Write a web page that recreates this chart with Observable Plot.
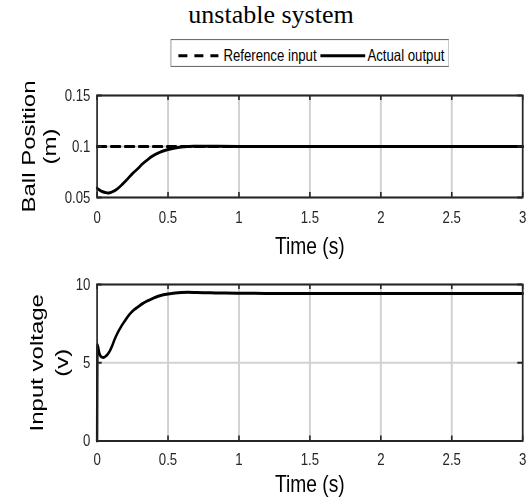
<!DOCTYPE html>
<html><head><meta charset="utf-8">
<script src="https://cdn.jsdelivr.net/npm/d3@7"></script>
<script src="https://cdn.jsdelivr.net/npm/@observablehq/plot@0.6"></script>
<style>
html,body{margin:0;padding:0;background:#fff;}
#fig{position:relative;width:528px;height:504px;overflow:hidden;background:#fff;}
#title{position:absolute;left:0;top:0;width:542px;text-align:center;font-family:"Liberation Serif","Times New Roman",serif;font-size:26px;line-height:30px;color:#000;}
#wrap{position:absolute;left:0;top:0;width:660px;height:504px;transform:scaleX(0.8);transform-origin:0 0;}
.panel{position:absolute;left:0;}
#legend{position:absolute;left:212.5px;top:39px;}
</style></head><body>
<div id="fig">
  <div id="title">unstable system</div>
  <div id="wrap">
    <div id="legend"></div>
    <div id="p1" class="panel" style="top:72px"></div>
    <div id="p2" class="panel" style="top:262px"></div>
  </div>
</div>
<script>
// ---- data ----
const xTicks = [0, 0.5, 1, 1.5, 2, 2.5, 3];
const posTicks = [0.05, 0.1, 0.15];
const voltTicks = [0, 5, 10];
const seriesNames = ["Reference input", "Actual output"];

const refTime = [0, 3];
const refPosition = [0.1, 0.1];

const time1 = [0, 0.02, 0.04, 0.06, 0.075, 0.09, 0.11, 0.146, 0.18, 0.217, 0.25, 0.287, 0.32, 0.358, 0.39, 0.429, 0.46, 0.5, 0.55, 0.594, 0.64, 0.68, 0.75, 0.85, 1.0, 1.2, 1.5, 2, 2.5, 3];
const position = [0.0592, 0.0570, 0.0556, 0.0548, 0.0545, 0.0547, 0.0557, 0.0588, 0.0632, 0.0685, 0.0735, 0.0783, 0.0830, 0.0873, 0.0905, 0.0935, 0.0954, 0.0971, 0.0986, 0.0994, 0.0999, 0.1002, 0.1003, 0.1002, 0.1001, 0.1, 0.1, 0.1, 0.1, 0.1];

const time2 = [0, 0.003, 0.016, 0.03, 0.047, 0.065, 0.087, 0.105, 0.122, 0.145, 0.17, 0.195, 0.217, 0.25, 0.287, 0.32, 0.358, 0.39, 0.429, 0.46, 0.5, 0.55, 0.594, 0.64, 0.7, 0.8, 0.9, 1.0, 1.2, 1.5, 2, 2.5, 3];
const voltage = [0, 6.15, 5.6, 5.38, 5.34, 5.45, 5.71, 6.05, 6.46, 6.92, 7.32, 7.67, 7.96, 8.3, 8.56, 8.78, 8.97, 9.1, 9.25, 9.33, 9.40, 9.46, 9.49, 9.50, 9.49, 9.47, 9.45, 9.44, 9.43, 9.42, 9.42, 9.42, 9.42];

// ---- layout ----
const S = 0.8, W = 528 / S;
const ML = 96.7 / S, MR = (528 - 522.3) / S;
const font = '"Liberation Sans", Arial, Helvetica, sans-serif';
const ink = "#262626";
const gridColor = "#d2d2d2";

const toRows = (ts, vs) => ts.map((t, i) => ({t, v: vs[i]}));

function panel(o) {
  const innerH = o.height - o.mt - o.mb;
  const innerW = W - ML - MR;
  const tx = 5, ty = 5 / S;
  const marks = [
    Plot.gridX({ticks: xTicks, stroke: gridColor, strokeOpacity: 1, strokeWidth: 2.5}),
    Plot.gridY({ticks: o.yTicks, stroke: gridColor, strokeOpacity: 1, strokeWidth: 2})
  ];
  if (o.ref) marks.push(Plot.line(o.ref, {x: "t", y: "v", stroke: "#000", strokeWidth: 3, strokeDasharray: "11.25,6.25"}));
  marks.push(Plot.line(o.data, {x: "t", y: "v", stroke: "#000", strokeWidth: 3, curve: "monotone-x"}));
  marks.push(
    Plot.ruleX(xTicks, {x: d => d, stroke: ink, strokeWidth: 2, insetTop: innerH - tx}),
    Plot.ruleX(xTicks, {x: d => d, stroke: ink, strokeWidth: 2, insetBottom: innerH - tx}),
    Plot.ruleY(o.yTicks, {y: d => d, stroke: ink, strokeWidth: 2, insetRight: innerW - ty}),
    Plot.ruleY(o.yTicks, {y: d => d, stroke: ink, strokeWidth: 2, insetLeft: innerW - ty}),
    Plot.frame({stroke: ink, strokeWidth: 2}),
    Plot.axisX({ticks: xTicks, tickSize: 0, tickPadding: o.xPad, tickFormat: d => String(d), fontSize: 16.5, fill: ink, label: null}),
    Plot.axisY({ticks: o.yTicks, tickSize: 0, tickPadding: 8.4, tickFormat: d => String(d), fontSize: 16.5, fill: ink, label: null}),
    Plot.text(["Time (s)"], {text: d => d, frameAnchor: "bottom", textAnchor: "middle", lineAnchor: "top", dy: o.xLabelDy, fontSize: 24, fill: "#000"}),
    ...o.yLabels.map(([s, dx]) => Plot.text([s], {text: d => d, frameAnchor: "left", rotate: -90, textAnchor: "middle", lineAnchor: "middle", dx, fontSize: 24, fill: "#000"}))
  );
  return Plot.plot({
    width: W, height: o.height,
    marginLeft: ML, marginRight: MR, marginTop: o.mt, marginBottom: o.mb,
    x: {domain: [0, 3]},
    y: {domain: o.yDomain},
    style: {fontFamily: font, background: "transparent", overflow: "visible"},
    marks
  });
}

document.getElementById("p1").appendChild(panel({
  height: 190, mt: 23, mb: 65,
  yDomain: [0.05, 0.15], yTicks: posTicks,
  data: toRows(time1, position), ref: toRows(refTime, refPosition),
  xPad: 13.5, xLabelDy: 39,
  yLabels: [["Ball Position", -84.8], ["(m)", -58.6]]
}));

document.getElementById("p2").appendChild(panel({
  height: 242, mt: 22, mb: 63.5,
  yDomain: [0, 10], yTicks: voltTicks,
  data: toRows(time2, voltage), ref: null,
  xPad: 12.5, xLabelDy: 34,
  yLabels: [["Input voltage", -74.8], ["(v)", -43.6]]
}));

// ---- legend ----
const lg = d3.select("#legend").append("svg").attr("width", 348.75).attr("height", 28)
  .style("font-family", font).style("display", "block");
lg.append("rect").attr("x", 0.5).attr("y", 0.5).attr("width", 347.75).attr("height", 27)
  .attr("fill", "#fff").attr("stroke", "#6e6e6e").attr("stroke-width", 1.2);
const items = [
  {name: seriesNames[0], x0: 10, x1: 60, tx: 66.25, dash: "11.25,8.75"},
  {name: seriesNames[1], x0: 187.5, x1: 243.5, tx: 246.25, dash: null}
];
items.forEach(it => {
  lg.append("line").attr("x1", it.x0).attr("x2", it.x1).attr("y1", 16.7).attr("y2", 16.7)
    .attr("stroke", "#000").attr("stroke-width", 3).attr("stroke-dasharray", it.dash);
  lg.append("text").attr("x", it.tx).attr("y", 22.5).attr("font-size", 16.5).attr("fill", "#000").text(it.name);
});
</script>
</body></html>
